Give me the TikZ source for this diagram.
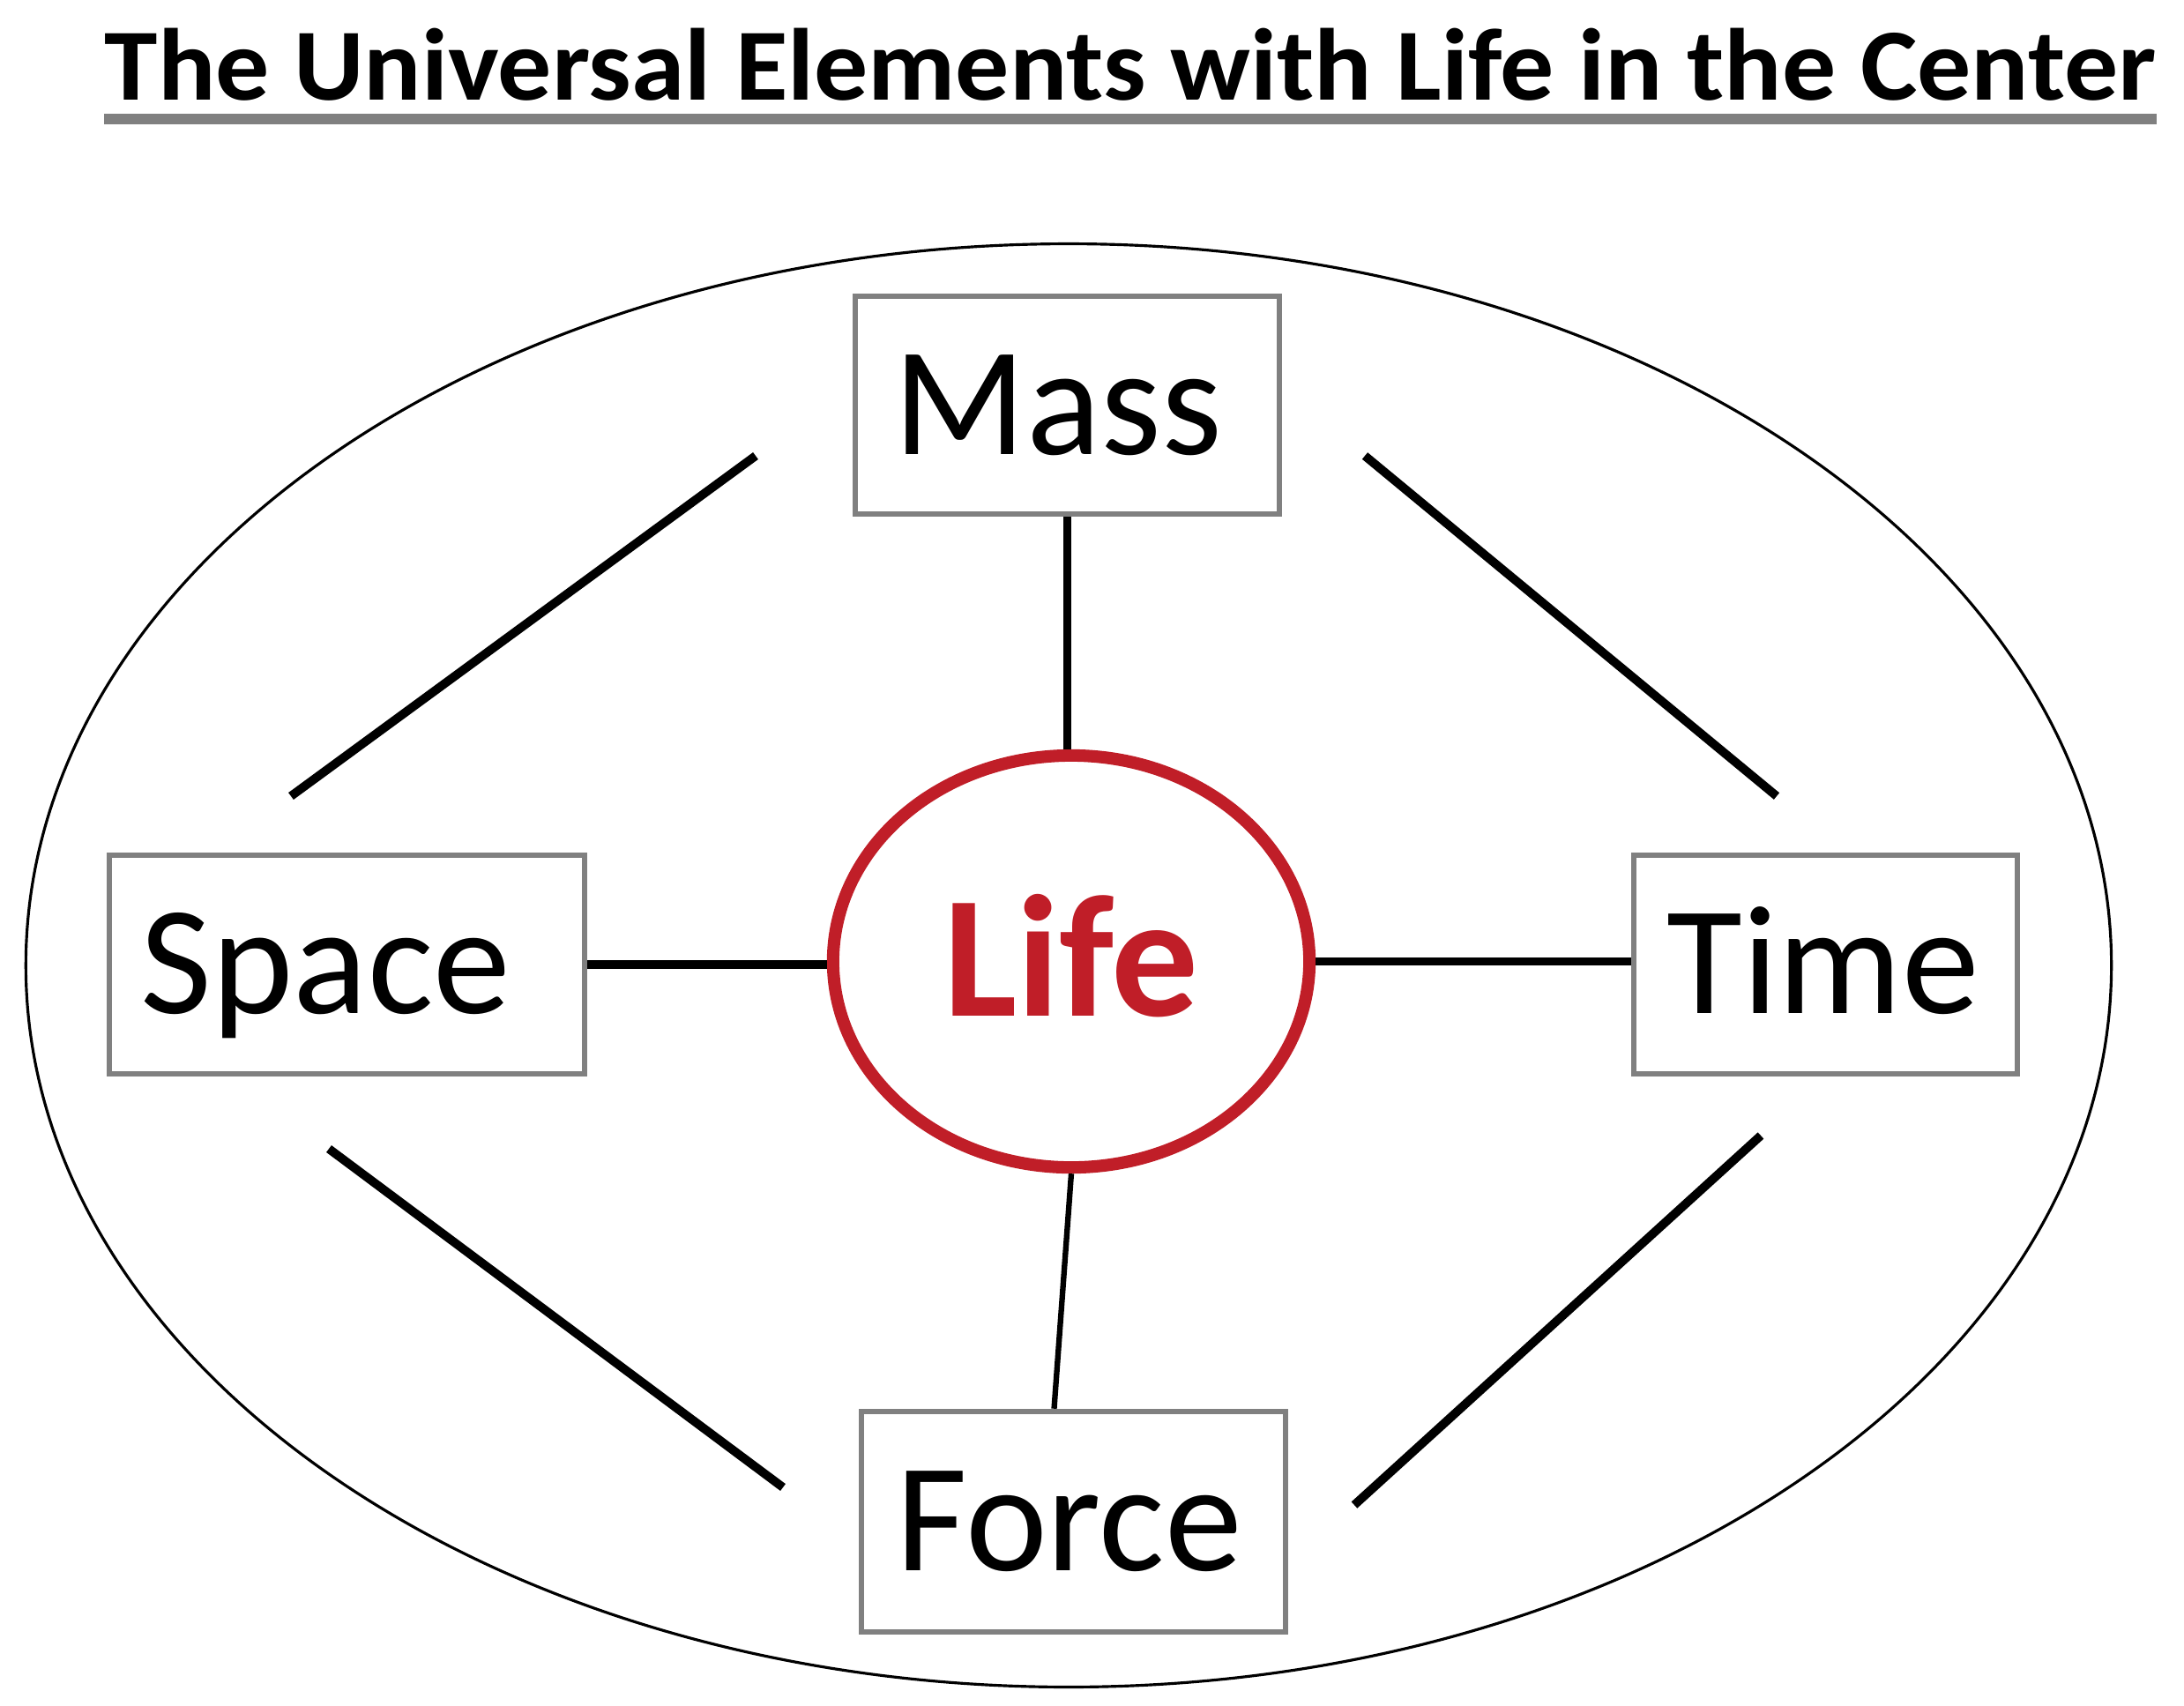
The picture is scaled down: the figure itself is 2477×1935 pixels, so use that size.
\documentclass[tikz,border=0pt]{standalone}
\usepackage{fontspec}
\setmainfont{Carlito}
\newfontfamily\titlefont[FakeStretch=1.05]{Carlito}
\usetikzlibrary{shapes.geometric,calc}
\definecolor{boxgray}{RGB}{128,128,128}
\definecolor{lifered}{RGB}{192,30,40}
\begin{document}
\begin{tikzpicture}[x=0.01cm,y=-0.01cm,
  box/.style={draw=boxgray, line width=1.8pt, font=\fontsize{50}{60}\selectfont,
    text height=1.11cm, text depth=0pt, inner ysep=0pt, align=left},
  link/.style={line width=2.8pt, black},
  thinlink/.style={line width=1.8pt, black},
  diag/.style={line width=2.8pt, black}]
\useasboundingbox (0,0) rectangle (2477,1935);

% title
\node[anchor=base west, inner sep=0pt, font=\titlefont\fontsize{33}{40}\selectfont\bfseries] (title) at (118,113)
  {The Universal Elements with Life in the Center};
\draw[boxgray, line width=3.6pt] ([yshift=-0.22cm]title.base west) -- ([yshift=-0.22cm]title.base east);

% outer ellipse
\node[ellipse, draw, line width=0.9pt, minimum width=23.64cm, minimum height=16.36cm, inner sep=0pt] (outer) at (1212,1095) {};

% centre
\node[ellipse, draw=lifered, line width=4pt, minimum width=5.40cm, minimum height=4.67cm, inner sep=0pt,
  text=lifered, font=\fontsize{56}{60}\selectfont\bfseries, text height=1.24cm, text depth=0pt] (life) at (1215,1090.5) {Life};

% boxes
\node[box, minimum height=2.47cm, inner xsep=0.44cm, text width=3.93cm] (mass) at (1210.5,459.5) {Mass};
\node[box, minimum height=2.48cm, inner xsep=0.36cm, text width=4.67cm] (space) at (393.5,1094) {Space};
\node[box, minimum height=2.48cm, inner xsep=0.38cm, text width=3.59cm] (time) at (2070.5,1094) {Time};
\node[box, minimum height=2.50cm, inner xsep=0.40cm, text width=4.01cm] (force) at (1217.5,1726) {Force};

% connectors
\draw[link] (mass.south) -- (mass.south |- life.north);
\draw[link] (space.east) -- (space.east -| life.west);
\draw[link] (life.east) -- (life.east -| time.west);
\draw[thinlink] (life.south) -- ($(force.north)+(-22,0)$);

% diagonal strokes
\coordinate (ulA) at (857,517);  \coordinate (ulB) at (330,903);
\coordinate (urA) at (1548,517); \coordinate (urB) at (2015,903);
\coordinate (llA) at (373,1303); \coordinate (llB) at (888,1687);
\coordinate (lrA) at (1997,1288);\coordinate (lrB) at (1536,1707);
\draw[diag] (ulA) -- (ulB);
\draw[diag] (urA) -- (urB);
\draw[diag] (llA) -- (llB);
\draw[diag] (lrA) -- (lrB);
\end{tikzpicture}
\end{document}
